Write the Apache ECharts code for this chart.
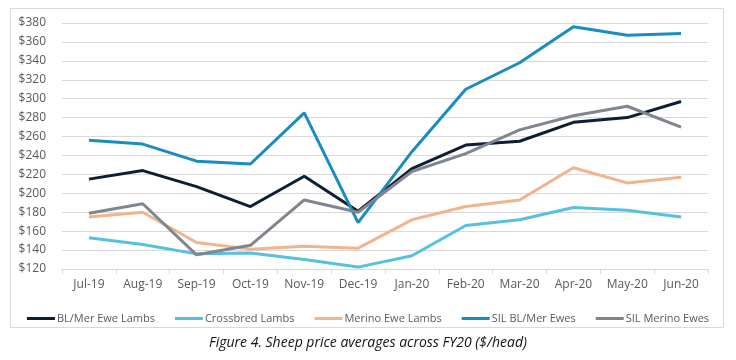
<!DOCTYPE html>
<html>
<head>
<meta charset="utf-8">
<script src="https://cdn.jsdelivr.net/npm/echarts@6/dist/echarts.min.js"></script>
<style>
  html, body { margin: 0; padding: 0; background: #fff; }
  #pic1 { width: 736px; height: 360px; }
</style>
</head>
<body>
<div id="pic1"></div>
<script>
var months = ['Jul-19','Aug-19','Sep-19','Oct-19','Nov-19','Dec-19','Jan-20','Feb-20','Mar-20','Apr-20','May-20','Jun-20'];
var blMerEweLambs = [215, 224, 207, 186, 218, 181, 226, 251, 255, 275, 280, 297];
var crossbredLambs = [153, 146, 136, 137, 130, 122, 134, 166, 172, 185, 182, 175];
var merinoEweLambs = [175, 180, 148, 141, 144, 142, 172, 186, 193, 227, 211, 217];
var silBlMerEwes = [256, 252, 234, 231, 285, 169, 244, 310, 338, 376, 367, 369];
var silMerinoEwes = [179, 189, 135, 145, 193, 180, 223, 242, 267, 282, 292, 270];

var names = ['BL/Mer Ewe Lambs', 'Crossbred Lambs', 'Merino Ewe Lambs', 'SIL BL/Mer Ewes', 'SIL Merino Ewes'];
var colors = ['#0e1f33', '#55c1df', '#f1b48c', '#1a8cc0', '#7f868d'];
var values = [blMerEweLambs, crossbredLambs, merinoEweLambs, silBlMerEwes, silMerinoEwes];

var myChart = echarts.init(document.getElementById('pic1'));

var series = names.map(function (n, i) {
    return {
        name: n,
        type: 'line',
        data: values[i],
        symbol: 'none',
        lineStyle: { width: 3, color: colors[i] },
        itemStyle: { color: colors[i] }
    };
});

var option = {
    animation: false,
    grid: { left: 62, right: 28, top: 23, bottom: 91 },
    graphic: [
        {
            type: 'rect',
            shape: { x: 10.5, y: 8.5, width: 713, height: 319 },
            style: { fill: 'none', stroke: '#d9d9d9', lineWidth: 1 },
            silent: true
        },
        {
            type: 'text',
            left: 'center',
            top: 336,
            style: {
                text: 'Figure 4. Sheep price averages across FY20 ($/head)',
                font: 'italic 14px "Open Sans"',
                fill: '#111'
            }
        }
    ],
    legend: {
        data: names,
        top: 308,
        left: 'center',
        icon: 'rect',
        itemWidth: 28,
        itemHeight: 3,
        itemGap: 20,
        textStyle: { color: '#595959', fontSize: 11, fontFamily: 'Open Sans', padding: [0, 0, 0, -3] }
    },
    xAxis: {
        type: 'category',
        data: months,
        axisLine: { lineStyle: { color: '#d9d9d9' } },
        axisTick: { show: true, length: 5, lineStyle: { color: '#d9d9d9' } },
        axisLabel: { color: '#595959', fontSize: 12, fontFamily: 'Open Sans', margin: 10 }
    },
    yAxis: {
        type: 'value',
        min: 120,
        max: 380,
        interval: 20,
        axisLine: { show: false },
        axisTick: { show: false },
        splitLine: { lineStyle: { color: '#d9d9d9' } },
        axisLabel: {
            color: '#595959', fontSize: 12, fontFamily: 'Open Sans', margin: 16,
            formatter: function (v) { return '$' + v; }
        }
    },
    series: series
};

myChart.setOption(option);
</script>
</body>
</html>
